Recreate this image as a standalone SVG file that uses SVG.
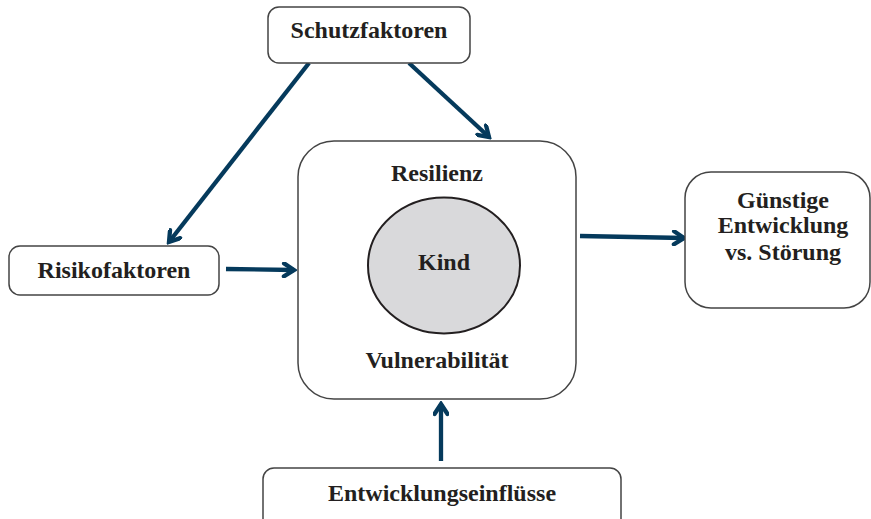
<svg xmlns="http://www.w3.org/2000/svg" width="871" height="519" viewBox="0 0 871 519">
<style>
.box{fill:#fff;stroke:#444;stroke-width:1.5}
.lbl{font-family:"Liberation Serif","Times New Roman",serif;font-weight:bold;font-size:24px;fill:#231f20;text-anchor:middle}
.con{stroke:#053a5c;stroke-width:4.3;fill:none}
</style>
<defs>
<marker id="ah" viewBox="0 0 16 16" markerWidth="16" markerHeight="16" markerUnits="userSpaceOnUse" refX="13" refY="8" orient="auto">
<path d="M3,1.5 L13,8 L3,14.5" fill="none" stroke="#053a5c" stroke-width="4.3" stroke-linecap="round" stroke-linejoin="miter"/>
</marker>
</defs>
<g id="connectors">
<line class="con" x1="309" y1="63" x2="169" y2="242" marker-end="url(#ah)"/>
<line class="con" x1="409" y1="63" x2="489" y2="137" marker-end="url(#ah)"/>
<line class="con" x1="226" y1="269" x2="294" y2="270" marker-end="url(#ah)"/>
<line class="con" x1="580" y1="236" x2="684" y2="238" marker-end="url(#ah)"/>
<line class="con" x1="441" y1="461" x2="441" y2="404" marker-end="url(#ah)"/>
</g>
<g id="schutzfaktoren">
<rect class="box" x="268" y="7" width="202" height="56" rx="11"/>
<text class="lbl" x="369" y="38">Schutzfaktoren</text>
</g>
<g id="risikofaktoren">
<rect class="box" x="9" y="246" width="210" height="49" rx="11"/>
<text class="lbl" x="114" y="278">Risikofaktoren</text>
</g>
<g id="kind-umfeld">
<rect class="box" x="298" y="141" width="278" height="258" rx="36" stroke="#666"/>
<text class="lbl" x="437" y="181">Resilienz</text>
<ellipse cx="444" cy="265.5" rx="76" ry="68" fill="#d9d9db" stroke="#231f20" stroke-width="2"/>
<text class="lbl" x="444" y="270">Kind</text>
<text class="lbl" x="437" y="368">Vulnerabilität</text>
</g>
<g id="entwicklung">
<rect class="box" x="685" y="172" width="185" height="136" rx="26"/>
<text class="lbl" x="783" y="208">Günstige</text>
<text class="lbl" x="783" y="233">Entwicklung</text>
<text class="lbl" x="783" y="260">vs. Störung</text>
</g>
<g id="entwicklungseinfluesse">
<rect class="box" x="263" y="468" width="358" height="62" rx="11"/>
<text class="lbl" x="442" y="501">Entwicklungseinflüsse</text>
</g>
</svg>
